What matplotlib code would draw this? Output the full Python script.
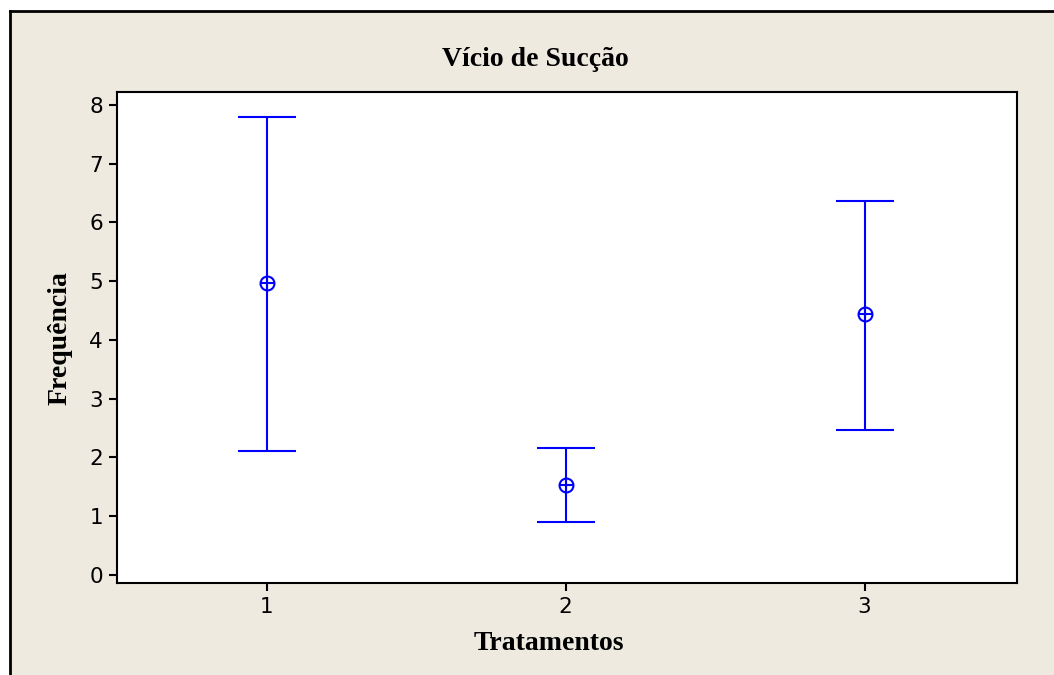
import matplotlib
matplotlib.use("Agg")
import matplotlib.pyplot as plt
from matplotlib.patches import Rectangle
from matplotlib.lines import Line2D

# data
tratamentos = [1, 2, 3]
media = [4.97, 1.53, 4.44]
limite_inf = [2.11, 0.90, 2.47]
limite_sup = [7.80, 2.16, 6.37]

W, H = 1054, 675
fig = plt.figure(figsize=(W / 100, H / 100), dpi=100, facecolor="white")

# beige panel with border on left and top
bg = "#EEEAE0"
x0, y1 = 10 / W, 1 - 11 / H
fig.patches.append(Rectangle((x0, 0), 1 - x0, y1, transform=fig.transFigure,
                             facecolor=bg, edgecolor="none", zorder=-10))
fig.lines.append(Line2D([x0, x0], [0, y1], transform=fig.transFigure, color="black", lw=2, zorder=-9))
fig.lines.append(Line2D([x0, 1], [y1, y1], transform=fig.transFigure, color="black", lw=2, zorder=-9))

ax = fig.add_axes([117 / W, 1 - 583 / H, (1017 - 117) / W, (583 - 92) / H])
ax.set_facecolor("white")

blue = "#0000FF"
err_lo = [m - lo for m, lo in zip(media, limite_inf)]
err_hi = [hi - m for m, hi in zip(media, limite_sup)]
ax.errorbar(tratamentos, media, yerr=[err_lo, err_hi], fmt="none", ecolor=blue,
            elinewidth=1.5, capsize=21, capthick=1.5)
ax.plot(tratamentos, media, "o", mfc="none", mec=blue, ms=10, mew=1.5)
ax.plot(tratamentos, media, "+", color=blue, ms=10, mew=1.5)

ax.set_xlim(0.5, 3.51)
ax.set_ylim(-0.14, 8.22)
ax.set_xticks(tratamentos)
ax.set_yticks(range(0, 9))
ax.tick_params(direction="out", length=6, width=1.5, labelsize=15.5, pad=4)
for s in ax.spines.values():
    s.set_linewidth(1.5)

serif = {"family": "Liberation Serif", "weight": "bold"}
fig.text(535 / W, 1 - 60 / H, "Vício de Sucção", fontsize=20, ha="center", va="center", **serif)
fig.text(549 / W, 1 - 643 / H, "Tratamentos", fontsize=20, ha="center", va="center", **serif)
fig.text(60 / W, 1 - 338 / H, "Frequência", fontsize=20, rotation=90, ha="center", va="center", **serif)

fig.savefig("out.png", dpi=100, facecolor="white")
